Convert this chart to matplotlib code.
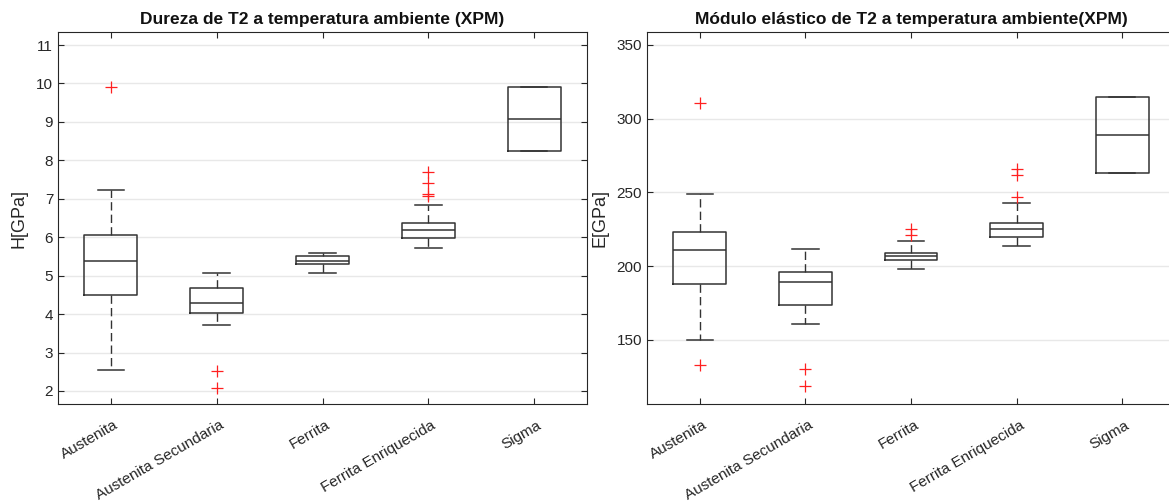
import matplotlib
matplotlib.use("Agg")
import matplotlib.pyplot as plt
import matplotlib.transforms as mtransforms

plt.rcParams['font.family'] = ['Liberation Sans', 'DejaVu Sans']

fases = ['Austenita', 'Austenita Secundaria', 'Ferrita', 'Ferrita Enriquecida', 'Sigma']

# Dureza H [GPa]: (whislo, q1, med, q3, whishi), outliers
h_stats = [
    (2.55, 4.50, 5.38, 6.05, 7.22),
    (3.72, 4.03, 4.28, 4.68, 5.07),
    (5.07, 5.30, 5.37, 5.50, 5.60),
    (5.73, 5.98, 6.19, 6.38, 6.83),
    (8.25, 8.25, 9.08, 9.90, 9.90),
]
h_outliers = [
    [9.90],
    [2.53, 2.08],
    [],
    [7.71, 7.41, 7.12, 7.06],
    [],
]

# Modulo elastico E [GPa]
e_stats = [
    (150, 188, 211, 223, 249),
    (161, 174, 189, 196, 212),
    (198, 204, 207, 209, 217),
    (214, 220, 225, 229, 243),
    (263, 263, 289, 315, 315),
]
e_outliers = [
    [311, 133],
    [130, 119],
    [225, 221],
    [266, 262, 247],
    [],
]


def dibujar(fig, ax, stats, outliers, titulo, ylabel, yticks, ylim):
    datos = []
    for (lo, q1, med, q3, hi), fl, nombre in zip(stats, outliers, fases):
        datos.append({'whislo': lo, 'q1': q1, 'med': med, 'q3': q3,
                      'whishi': hi, 'fliers': fl, 'label': nombre})
    negro = '#333333'
    ax.bxp(datos, widths=0.5, capwidths=0.25, showfliers=True,
           boxprops=dict(color=negro, lw=1.1),
           medianprops=dict(color=negro, lw=1.1),
           whiskerprops=dict(color=negro, lw=1.0, ls=(0, (6, 3))),
           capprops=dict(color=negro, lw=1.1),
           flierprops=dict(marker='+', markeredgecolor='#ff2020',
                           markersize=9, markeredgewidth=0.9))
    ax.set_xlim(0.5, 5.5)
    ax.set_ylim(*ylim)
    ax.set_yticks(yticks)
    ax.yaxis.grid(True, color='#e8e8e8', lw=1.0)
    ax.set_axisbelow(True)
    for s in ax.spines.values():
        s.set_color('#262626')
        s.set_linewidth(0.8)
    ax.tick_params(direction='in', length=4, width=0.8, color='#262626',
                   top=True, right=True, labelsize=11, labelcolor='#262626')
    ax.tick_params(axis='x', pad=10)
    ax.set_xticks(range(1, 6))
    ax.set_xticklabels(fases, rotation=30, ha='right', rotation_mode='anchor',
                       fontsize=11)
    desplaza = mtransforms.ScaledTranslation(3 / 100, 0, fig.dpi_scale_trans)
    for lab in ax.get_xticklabels():
        lab.set_transform(lab.get_transform() + desplaza)
    ax.set_title(titulo, fontsize=12.5, fontweight='bold', color='#111111', pad=6)
    ax.set_ylabel(ylabel, fontsize=13, color='#262626', labelpad=6)


fig = plt.figure(figsize=(11.69, 5.04), dpi=100)
ax1 = fig.add_axes([58 / 1169, 1 - 404 / 504, 529 / 1169, 372 / 504])
ax2 = fig.add_axes([647 / 1169, 1 - 404 / 504, 528 / 1169, 372 / 504])

dibujar(fig, ax1, h_stats, h_outliers, 'Dureza de T2 a temperatura ambiente (XPM)',
        'H[GPa]', range(2, 12), (1.66, 11.34))
dibujar(fig, ax2, e_stats, e_outliers, 'Módulo elástico de T2 a temperatura ambiente(XPM)',
        'E[GPa]', [150, 200, 250, 300, 350], (106.6, 358.8))

fig.savefig('out.png', dpi=100)
